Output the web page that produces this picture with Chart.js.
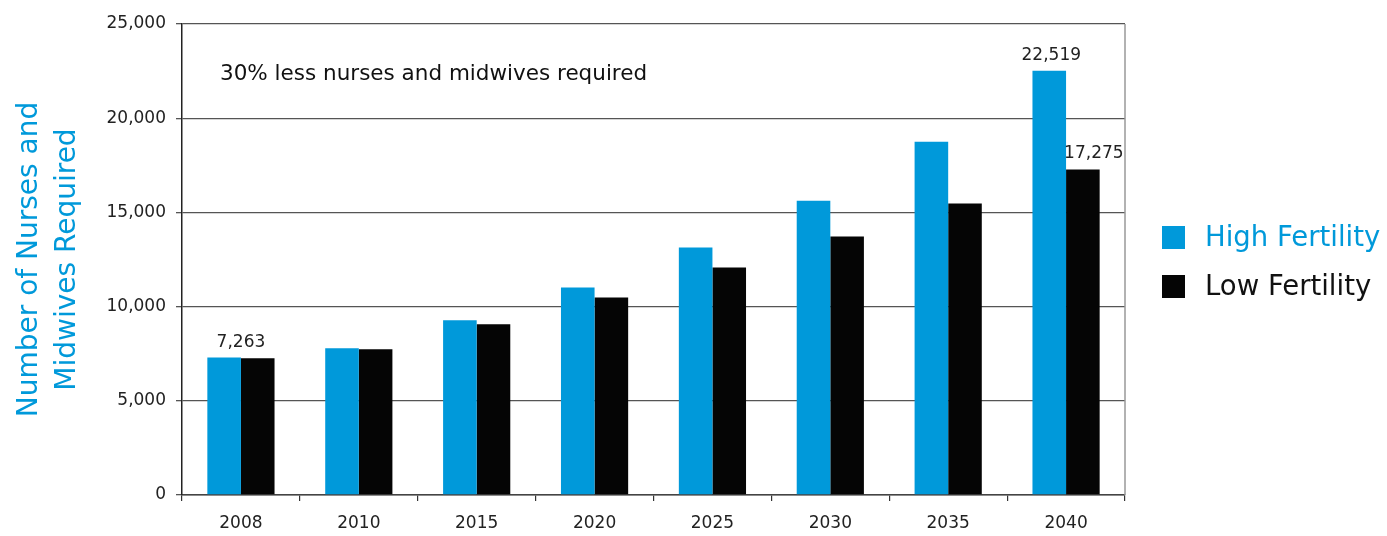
<!DOCTYPE html>
<html>
<head>
<meta charset="utf-8">
<script src="https://cdn.jsdelivr.net/npm/chart.js@4.4.1/dist/chart.umd.min.js"></script>
<style>
  html, body { margin: 0; padding: 0; background: #fff; }
  #wrap { width: 1387px; height: 536px; position: relative; }
</style>
</head>
<body>
<div id="wrap"><canvas id="myChart" width="1387" height="536"></canvas></div>
<script>
const years = ["2008", "2010", "2015", "2020", "2025", "2030", "2035", "2040"];
const highFertility = [7300, 7786, 9270, 11017, 13136, 15625, 18750, 22519];
const lowFertility = [7263, 7733, 9057, 10487, 12076, 13718, 15466, 17275];
const yTicks = [0, 5000, 10000, 15000, 20000, 25000];
const noteText = "30% less nurses and midwives required";

const FONT = "'DejaVu Sans', sans-serif";
const BLUE = "#0099da";
const BLACK = "#050505";

const fmt = (v) => v.toLocaleString("en-US");

// value labels above 2008 group and 2040 bars, plus the note
const extrasPlugin = {
  id: "extras",
  afterDatasetsDraw(chart) {
    const { ctx, chartArea } = chart;
    const hi = chart.getDatasetMeta(0).data;
    const lo = chart.getDatasetMeta(1).data;
    ctx.save();
    ctx.font = "17px " + FONT;
    ctx.fillStyle = "#222";
    ctx.textAlign = "center";
    ctx.textBaseline = "alphabetic";

    // 2008: one label centred on the group
    const gx = (hi[0].x + lo[0].x) / 2;
    ctx.fillText(fmt(lowFertility[0]), gx, Math.min(hi[0].y, lo[0].y) - 10);

    // 2040: each bar
    const last = years.length - 1;
    ctx.fillText(fmt(highFertility[last]), hi[last].x + 2, hi[last].y - 11);
    ctx.fillText(fmt(lowFertility[last]), lo[last].x + 11, lo[last].y - 12);

    // note
    ctx.font = "21.5px " + FONT;
    ctx.fillStyle = "#111";
    ctx.textAlign = "left";
    ctx.textBaseline = "middle";
    ctx.fillText(noteText, chartArea.left + 38, chartArea.top + 50);

    // right border of plot
    ctx.strokeStyle = "#999";
    ctx.lineWidth = 1.5;
    ctx.beginPath();
    ctx.moveTo(chartArea.right, chartArea.top);
    ctx.lineTo(chartArea.right, chartArea.bottom);
    ctx.stroke();

    // legend on the right
    const items = chart.data.datasets;
    const lx = chartArea.right + 37;
    const ly = 226;
    ctx.font = "27.5px " + FONT;
    items.forEach((ds, i) => {
      const y = ly + i * 49;
      ctx.fillStyle = ds.backgroundColor;
      ctx.fillRect(lx, y, 23, 23);
      ctx.fillStyle = i === 0 ? BLUE : "#111";
      ctx.fillText(ds.label, lx + 43, y + 13);
    });
    ctx.restore();
  },
};

const data = {
  labels: years,
  datasets: [
    {
      label: "High Fertility",
      data: highFertility,
      backgroundColor: BLUE,
    },
    {
      label: "Low Fertility",
      data: lowFertility,
      backgroundColor: BLACK,
    },
  ],
};

const config = {
  type: "bar",
  data: data,
  options: {
    responsive: false,
    animation: false,
    categoryPercentage: 0.57,
    barPercentage: 1,
    layout: {
      padding: { top: 24, right: 262, bottom: 0, left: 0 },
    },
    plugins: {
      legend: { display: false },
      tooltip: { enabled: false },
    },
    scales: {
      x: {
        grid: {
          offset: true,
          drawOnChartArea: false,
          tickLength: 6,
          color: "#333",
          lineWidth: 1.2,
        },
        border: { color: "#444", width: 1.5 },
        ticks: {
          font: { family: FONT, size: 17 },
          color: "#222",
          padding: 12,
        },
        afterFit: (s) => { s.height = 41; },
      },
      y: {
        min: 0,
        max: 25000,
        afterBuildTicks: (s) => { s.ticks = yTicks.map((v) => ({ value: v })); },
        grid: {
          color: "#555",
          lineWidth: 1.3,
          tickLength: 6,
        },
        border: { color: "#222", width: 1.5 },
        ticks: {
          font: { family: FONT, size: 17 },
          color: "#222",
          padding: 10,
          callback: (v) => fmt(v),
        },
        title: {
          display: true,
          text: ["Number of Nurses and", "Midwives Required"],
          color: BLUE,
          font: { family: FONT, size: 28, lineHeight: 1.36 },
          padding: { top: 11, bottom: 0 },
        },
        afterFit: (s) => { s.width = 182; },
      },
    },
  },
  plugins: [extrasPlugin],
};

new Chart(document.getElementById("myChart"), config);
</script>
</body>
</html>
